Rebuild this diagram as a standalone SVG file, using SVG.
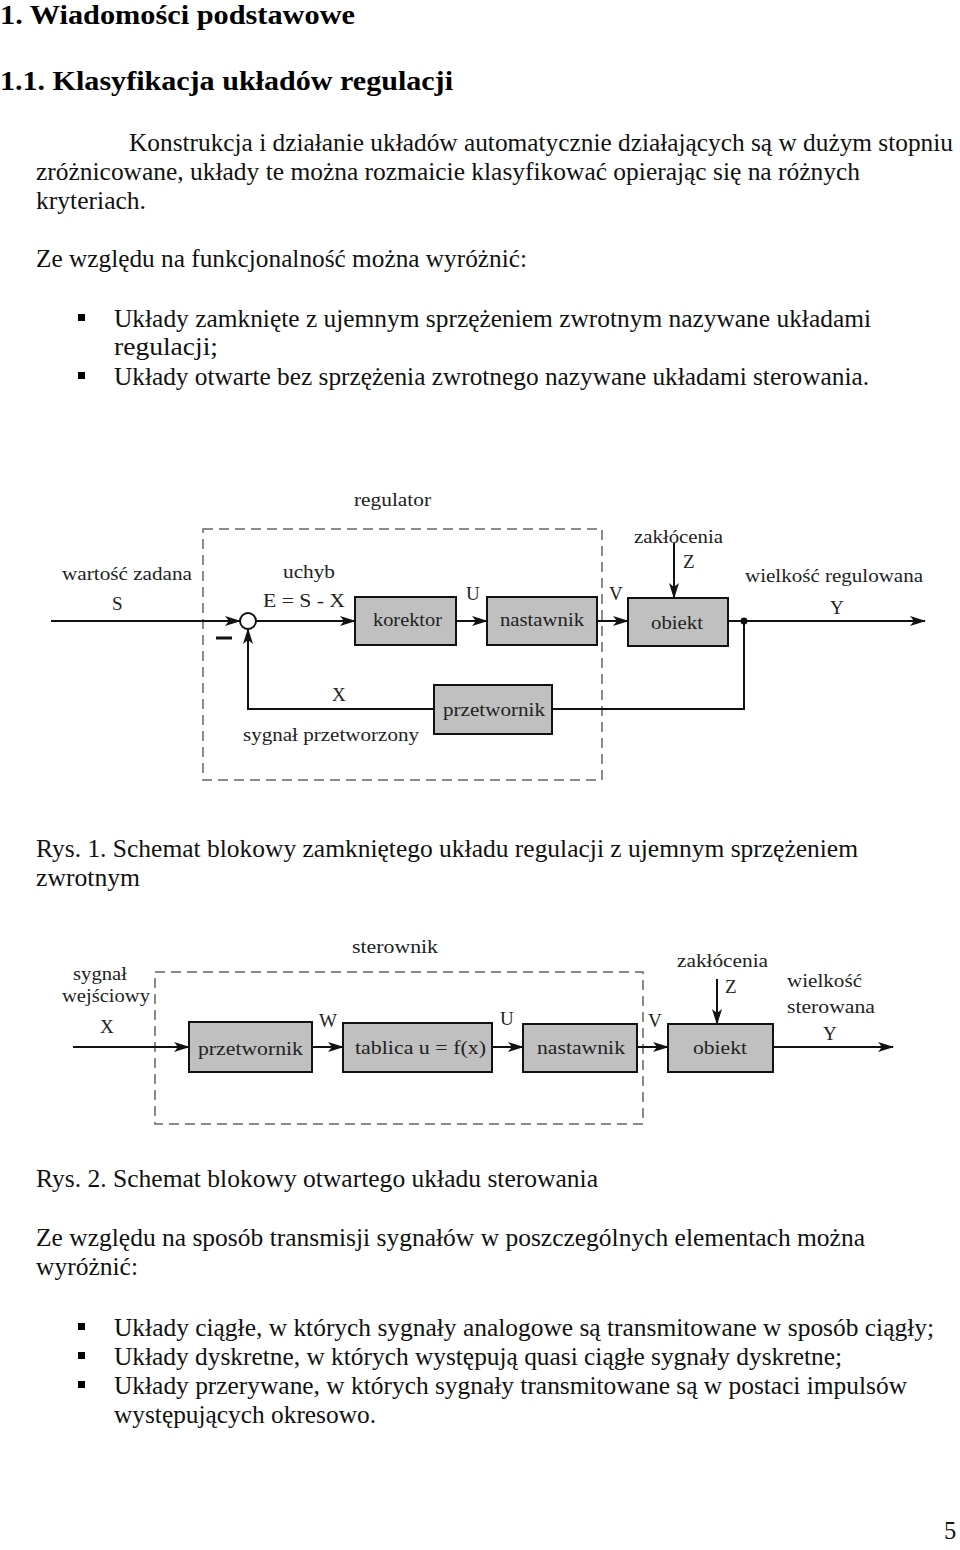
<svg xmlns="http://www.w3.org/2000/svg" width="960" height="1550" viewBox="0 0 960 1550">
<style>
.h{font-family:"Liberation Serif","Times New Roman",serif;font-weight:bold;font-size:28px;fill:#000}
.t{font-family:"Liberation Serif","Times New Roman",serif;font-size:24.5px;fill:#111}
.d{font-family:"Liberation Serif","Times New Roman",serif;font-size:19px;fill:#222}
.box{fill:#c0c0c0;stroke:#111;stroke-width:2}
.dash{fill:none;stroke:#666;stroke-width:1.5;stroke-dasharray:10 6}
.ln{fill:none;stroke:#111;stroke-width:2}
.arr{fill:none;stroke:#111;stroke-width:2;marker-end:url(#ah)}
.bul{fill:#000}
</style>
<defs>
<marker id="ah" markerWidth="16" markerHeight="10" refX="15" refY="5" orient="auto" markerUnits="userSpaceOnUse">
<path d="M0,0 L16,5 L0,10 L4,5 z" fill="#111"/>
</marker>
</defs>
<rect width="960" height="1550" fill="#fff"/>

<g id="text">
<text class="h" x="0" y="24" textLength="355" lengthAdjust="spacingAndGlyphs">1.  Wiadomości podstawowe</text>
<text class="h" x="0" y="90" textLength="453" lengthAdjust="spacingAndGlyphs">1.1.  Klasyfikacja układów regulacji</text>
<text class="t" x="129" y="151" textLength="824" lengthAdjust="spacingAndGlyphs">Konstrukcja i działanie układów automatycznie działających są w dużym stopniu</text>
<text class="t" x="36" y="180" textLength="824" lengthAdjust="spacingAndGlyphs">zróżnicowane, układy te można rozmaicie klasyfikować opierając się na różnych</text>
<text class="t" x="36" y="209" textLength="110" lengthAdjust="spacingAndGlyphs">kryteriach.</text>
<text class="t" x="36" y="267" textLength="491" lengthAdjust="spacingAndGlyphs">Ze względu na funkcjonalność można wyróżnić:</text>
<rect class="bul" x="78" y="314" width="7" height="7"/>
<text class="t" x="114" y="327" textLength="757" lengthAdjust="spacingAndGlyphs">Układy zamknięte z ujemnym sprzężeniem zwrotnym nazywane układami</text>
<text class="t" x="114" y="355" textLength="104" lengthAdjust="spacingAndGlyphs">regulacji;</text>
<rect class="bul" x="78" y="372" width="7" height="7"/>
<text class="t" x="114" y="385" textLength="755" lengthAdjust="spacingAndGlyphs">Układy otwarte bez sprzężenia zwrotnego nazywane układami sterowania.</text>
<text class="t" x="36" y="857" textLength="822" lengthAdjust="spacingAndGlyphs">Rys. 1. Schemat blokowy zamkniętego układu regulacji z ujemnym sprzężeniem</text>
<text class="t" x="36" y="886" textLength="104" lengthAdjust="spacingAndGlyphs">zwrotnym</text>
<text class="t" x="36" y="1187" textLength="562" lengthAdjust="spacingAndGlyphs">Rys. 2. Schemat blokowy otwartego układu sterowania</text>
<text class="t" x="36" y="1246" textLength="829" lengthAdjust="spacingAndGlyphs">Ze względu na sposób transmisji sygnałów w poszczególnych elementach można</text>
<text class="t" x="36" y="1275" textLength="102" lengthAdjust="spacingAndGlyphs">wyróżnić:</text>
<rect class="bul" x="78" y="1323" width="7" height="7"/>
<text class="t" x="114" y="1336" textLength="820" lengthAdjust="spacingAndGlyphs">Układy ciągłe, w których sygnały analogowe są transmitowane w sposób ciągły;</text>
<rect class="bul" x="78" y="1352" width="7" height="7"/>
<text class="t" x="114" y="1365" textLength="728" lengthAdjust="spacingAndGlyphs">Układy dyskretne, w których występują quasi ciągłe sygnały dyskretne;</text>
<rect class="bul" x="78" y="1381" width="7" height="7"/>
<text class="t" x="114" y="1394" textLength="793" lengthAdjust="spacingAndGlyphs">Układy przerywane, w których sygnały transmitowane są w postaci impulsów</text>
<text class="t" x="114" y="1423" textLength="262" lengthAdjust="spacingAndGlyphs">występujących okresowo.</text>
<text class="t" x="944" y="1539">5</text>
</g>

<!-- Figure 1 -->
<g id="fig1-regulator-frame">
<rect class="dash" x="203" y="529" width="399" height="251"/>
<text class="d" x="354" y="506" textLength="77" lengthAdjust="spacingAndGlyphs">regulator</text>
</g>
<g id="fig1-sum">
<circle cx="248" cy="621" r="8" fill="#fff" stroke="#111" stroke-width="2"/>
<line x1="216" y1="638" x2="232" y2="638" stroke="#111" stroke-width="3"/>
</g>
<g id="fig1-korektor">
<rect class="box" x="355" y="597" width="101" height="48"/>
<text class="d" x="373" y="626" textLength="69" lengthAdjust="spacingAndGlyphs">korektor</text>
</g>
<g id="fig1-nastawnik">
<rect class="box" x="487" y="597" width="110" height="48"/>
<text class="d" x="500" y="626" textLength="84" lengthAdjust="spacingAndGlyphs">nastawnik</text>
</g>
<g id="fig1-obiekt">
<rect class="box" x="628" y="598" width="100" height="48"/>
<text class="d" x="651" y="629" textLength="52" lengthAdjust="spacingAndGlyphs">obiekt</text>
</g>
<g id="fig1-przetwornik">
<rect class="box" x="434" y="685" width="118" height="49"/>
<text class="d" x="443" y="716" textLength="102" lengthAdjust="spacingAndGlyphs">przetwornik</text>
</g>
<g id="fig1-labels">
<text class="d" x="62" y="580" textLength="130" lengthAdjust="spacingAndGlyphs">wartość zadana</text>
<text class="d" x="112" y="610">S</text>
<text class="d" x="283" y="578" textLength="52" lengthAdjust="spacingAndGlyphs">uchyb</text>
<text class="d" x="263" y="607" textLength="82" lengthAdjust="spacingAndGlyphs">E = S - X</text>
<text class="d" x="466" y="600">U</text>
<text class="d" x="609" y="600">V</text>
<text class="d" x="634" y="543" textLength="89" lengthAdjust="spacingAndGlyphs">zakłócenia</text>
<text class="d" x="683" y="568">Z</text>
<text class="d" x="745" y="582" textLength="178" lengthAdjust="spacingAndGlyphs">wielkość regulowana</text>
<text class="d" x="830" y="614">Y</text>
<text class="d" x="332" y="701">X</text>
<text class="d" x="243" y="741" textLength="176" lengthAdjust="spacingAndGlyphs">sygnał przetworzony</text>
</g>
<g id="fig1-connectors">
<line class="arr" x1="51" y1="621" x2="240" y2="621"/>
<line class="arr" x1="256" y1="621" x2="355" y2="621"/>
<line class="arr" x1="456" y1="621" x2="487" y2="621"/>
<line class="arr" x1="597" y1="621" x2="628" y2="621"/>
<line class="arr" x1="728" y1="621" x2="925" y2="621"/>
<line class="arr" x1="674" y1="543" x2="674" y2="598"/>
<circle cx="744" cy="621" r="3.5" fill="#111"/>
<polyline class="ln" points="744,621 744,709 552,709"/>
<polyline class="arr" points="434,709 248,709 248,629"/>
</g>

<!-- Figure 2 -->
<g id="fig2-sterownik-frame">
<rect class="dash" x="155" y="972" width="488" height="152"/>
<text class="d" x="352" y="953" textLength="86" lengthAdjust="spacingAndGlyphs">sterownik</text>
</g>
<g id="fig2-przetwornik">
<rect class="box" x="189" y="1022" width="123" height="50"/>
<text class="d" x="198" y="1055" textLength="105" lengthAdjust="spacingAndGlyphs">przetwornik</text>
</g>
<g id="fig2-tablica">
<rect class="box" x="343" y="1023" width="149" height="49"/>
<text class="d" x="355" y="1054" textLength="131" lengthAdjust="spacingAndGlyphs">tablica u = f(x)</text>
</g>
<g id="fig2-nastawnik">
<rect class="box" x="523" y="1024" width="114" height="48"/>
<text class="d" x="537" y="1054" textLength="88" lengthAdjust="spacingAndGlyphs">nastawnik</text>
</g>
<g id="fig2-obiekt">
<rect class="box" x="668" y="1024" width="105" height="48"/>
<text class="d" x="693" y="1054" textLength="54" lengthAdjust="spacingAndGlyphs">obiekt</text>
</g>
<g id="fig2-labels">
<text class="d" x="73" y="980" textLength="54" lengthAdjust="spacingAndGlyphs">sygnał</text>
<text class="d" x="62" y="1002" textLength="88" lengthAdjust="spacingAndGlyphs">wejściowy</text>
<text class="d" x="100" y="1033">X</text>
<text class="d" x="319" y="1027">W</text>
<text class="d" x="500" y="1025">U</text>
<text class="d" x="648" y="1027">V</text>
<text class="d" x="677" y="967" textLength="91" lengthAdjust="spacingAndGlyphs">zakłócenia</text>
<text class="d" x="725" y="993">Z</text>
<text class="d" x="787" y="987" textLength="75" lengthAdjust="spacingAndGlyphs">wielkość</text>
<text class="d" x="787" y="1013" textLength="88" lengthAdjust="spacingAndGlyphs">sterowana</text>
<text class="d" x="823" y="1040">Y</text>
</g>
<g id="fig2-connectors">
<line class="arr" x1="73" y1="1047" x2="189" y2="1047"/>
<line class="arr" x1="312" y1="1047" x2="343" y2="1047"/>
<line class="arr" x1="492" y1="1047" x2="523" y2="1047"/>
<line class="arr" x1="637" y1="1047" x2="668" y2="1047"/>
<line class="arr" x1="773" y1="1047" x2="893" y2="1047"/>
<line class="arr" x1="717" y1="979" x2="717" y2="1024"/>
</g>
</svg>
